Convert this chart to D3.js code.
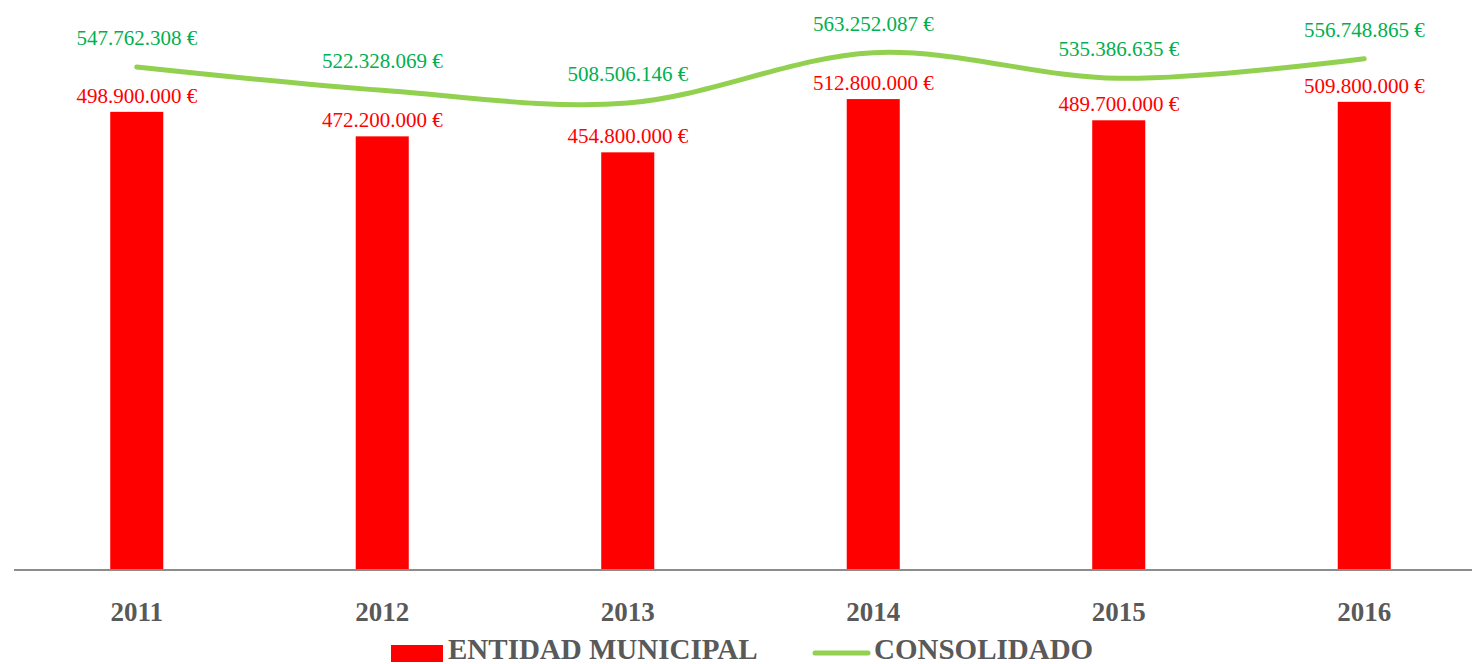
<!DOCTYPE html>
<html>
<head>
<meta charset="utf-8">
<script src="https://cdn.jsdelivr.net/npm/d3@7"></script>
<style>
  html, body { margin: 0; padding: 0; background: #fff; overflow: hidden; }
  svg { display: block; }
</style>
</head>
<body>
<script>
const years = ["2011", "2012", "2013", "2014", "2015", "2016"];
const entidadMunicipal = [498900000, 472200000, 454800000, 512800000, 489700000, 509800000];
const consolidado = [547762308, 522328069, 508506146, 563252087, 535386635, 556748865];
const seriesNames = ["ENTIDAD MUNICIPAL", "CONSOLIDADO"];

const W = 1472, H = 664;
const svg = d3.select("body").append("svg").attr("width", W).attr("height", H);

const x = d3.scaleBand().domain(years).range([14, 1487]).paddingInner(0.784).paddingOuter(0.392);
const y = d3.scaleLinear().domain([0, 600000000]).range([570, 19]);

const loc = d3.formatLocale({decimal: ",", thousands: ".", grouping: [3], currency: ["", " €"]});
const fmt = v => loc.format(",")(v) + " €";

const serif = "'Liberation Serif', 'Times New Roman', serif";

// bars
svg.append("g").selectAll("rect").data(years).join("rect")
  .attr("x", d => x(d))
  .attr("y", (d, i) => y(entidadMunicipal[i]))
  .attr("width", x.bandwidth())
  .attr("height", (d, i) => y(0) - y(entidadMunicipal[i]))
  .attr("fill", "#FF0000");

// x axis
const xAxis = svg.append("g").attr("transform", `translate(0,${y(0)})`)
  .call(d3.axisBottom(x).tickSize(0).tickPadding(0));
xAxis.select(".domain").attr("d", `M14,0H${W}`).attr("stroke", "#8c8c8c").attr("stroke-width", 2);
xAxis.selectAll(".tick text")
  .attr("y", 51).attr("dy", 0)
  .attr("font-family", serif).attr("font-size", 27).attr("font-weight", "bold")
  .attr("fill", "#595959");

// line
const cx = d => x(d) + x.bandwidth() / 2;
const line = d3.line().x((d, i) => cx(years[i])).y(d => y(d)).curve(d3.curveCardinal.tension(0));
svg.append("path").datum(consolidado)
  .attr("d", line).attr("fill", "none")
  .attr("stroke", "#92D050").attr("stroke-width", 5).attr("stroke-linecap", "round");

// bar labels
svg.append("g").selectAll("text").data(years).join("text")
  .attr("x", d => cx(d))
  .attr("y", (d, i) => y(entidadMunicipal[i]) - 9)
  .attr("text-anchor", "middle")
  .attr("font-family", serif).attr("font-size", 21)
  .attr("fill", "#FF0000")
  .text((d, i) => fmt(entidadMunicipal[i]));

// line labels
svg.append("g").selectAll("text").data(years).join("text")
  .attr("x", d => cx(d))
  .attr("y", (d, i) => y(consolidado[i]) - 22)
  .attr("text-anchor", "middle")
  .attr("font-family", serif).attr("font-size", 21)
  .attr("fill", "#00B050")
  .text((d, i) => fmt(consolidado[i]));

// legend
const lg = svg.append("g");
lg.append("rect").attr("x", 391).attr("y", 645).attr("width", 52).attr("height", 17).attr("fill", "#FF0000");
lg.append("text").attr("x", 448).attr("y", 659)
  .attr("font-family", serif).attr("font-size", 29).attr("font-weight", "bold")
  .attr("fill", "#595959").text(seriesNames[0]);
lg.append("line").attr("x1", 815).attr("x2", 868).attr("y1", 653).attr("y2", 653)
  .attr("stroke", "#92D050").attr("stroke-width", 5).attr("stroke-linecap", "round");
lg.append("text").attr("x", 874).attr("y", 659)
  .attr("font-family", serif).attr("font-size", 29).attr("font-weight", "bold")
  .attr("fill", "#595959").text(seriesNames[1]);
</script>
</body>
</html>
